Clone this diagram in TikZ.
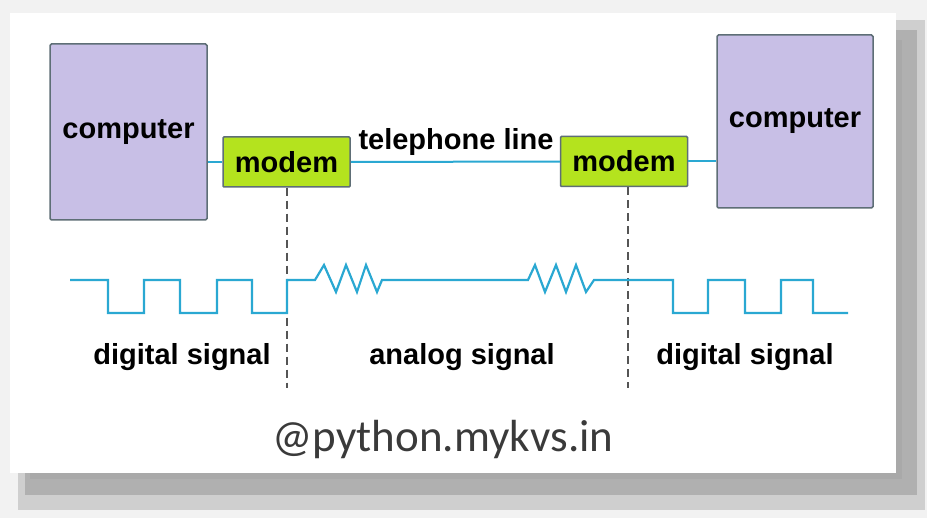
\documentclass[tikz,border=0pt]{standalone}
\usepackage{fontspec}
\setmainfont{Liberation Sans}
\newfontfamily\wmfont{Carlito}
\usepackage{xcolor}
\definecolor{boxlilac}{HTML}{C8BFE6}
\definecolor{modemlime}{HTML}{B4E31E}
\definecolor{edgegray}{HTML}{5E6E76}
\definecolor{linecyan}{HTML}{2AA8D2}
\definecolor{dashgray}{HTML}{555555}
\definecolor{wmgray}{HTML}{3A3A3A}

\begin{document}
\begin{tikzpicture}[x=1pt,y=-1pt,
  pcbox/.style={draw=edgegray, line width=1.5pt, fill=boxlilac, rounded corners=1.5pt,
    font=\fontsize{29}{30}\selectfont\bfseries, inner sep=0pt},
  modembox/.style={draw=edgegray, line width=1.5pt, fill=modemlime, rounded corners=1pt,
    font=\fontsize{29}{30}\selectfont\bfseries, inner sep=0pt, minimum width=127pt, minimum height=50pt},
  wire/.style={linecyan, line width=2pt},
  lbl/.style={font=\fontsize{29}{30}\selectfont\bfseries, inner sep=0pt}]
  % frame and shadow
  \fill[gray!10] (0,0) rectangle (927,518);
  \fill[gray!38] (18,20) rectangle (925,510);
  \fill[gray!62] (25,30) rectangle (917,495);
  \fill[gray!88!black!60] (30,40) rectangle (902,479);
  \fill[white] (10,13) rectangle (896,473);
  \useasboundingbox (0,0) rectangle (927,518);

  \node[pcbox, minimum width=157pt, minimum height=176pt] (comp1) at (128.5,132) {computer};
  \node[pcbox, minimum width=156pt, minimum height=173pt] (comp2) at (795,121.5) {computer};
  \node[modembox] (modem1) at (286.5,162) {modem};
  \node[modembox] (modem2) at (624,161.5) {modem};

  \draw[wire] (modem1.west) -- (modem1.west -| comp1.east);
  \draw[wire] (modem1) -- (modem2);
  \draw[wire] (modem2.east) -- (modem2.east -| comp2.west);
  \node[lbl] (tline) at (456,142) {telephone line};

  % dashed dividers
  \coordinate (cut1) at (287,388);
  \coordinate (cut2) at (628,388);
  \draw[dashgray, line width=1.2pt, dash pattern=on 8pt off 5pt] (modem1.south -| cut1) -- (cut1);
  \draw[dashgray, line width=1.2pt, dash pattern=on 8pt off 5pt] (modem2.south -| cut2) -- (cut2);

  % the signal
  \draw[linecyan, line width=2.2pt, line join=miter]
    (70,280) -- (108,280) -- (108,313) -- (144,313) -- (144,280) -- (180,280) -- (180,313)
    -- (217,313) -- (217,280) -- (252,280) -- (252,313) -- (287,313) -- (287,280)
    -- (315,280) -- (324,265) -- (336,292) -- (346,265) -- (357,292) -- (366,265) -- (377,292) -- (382,280)
    -- (528,280) -- (535,265) -- (545,292) -- (556,265) -- (566,292) -- (576,265) -- (586,292) -- (594,280)
    -- (673,280) -- (673,313) -- (708,313) -- (708,280) -- (745,280) -- (745,313) -- (781,313)
    -- (781,280) -- (813,280) -- (813,313) -- (848,313);

  \node[lbl] (dig1) at (182,357) {digital signal};
  \node[lbl] (ana) at (462,357) {analog signal};
  \node[lbl] (dig2) at (745,357) {digital signal};

  \node[text=wmgray, font=\fontsize{45}{46}\selectfont\wmfont, inner sep=0pt] (wm) at (443,440) {@python.mykvs.in};
\end{tikzpicture}
\end{document}
